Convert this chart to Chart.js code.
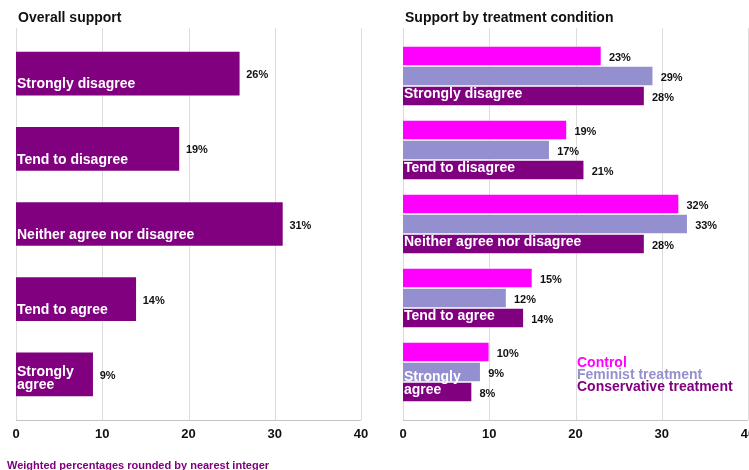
<!DOCTYPE html>
<html>
<head>
<meta charset="utf-8">
<title>Support</title>
<script src="https://cdn.jsdelivr.net/npm/chart.js@4.4.1/dist/chart.umd.min.js"></script>
<style>
  html, body { margin: 0; padding: 0; background: #fff; }
  body {
    width: 749px; height: 470px; overflow: hidden; position: relative;
    font-family: "Liberation Sans", Arial, Helvetica, sans-serif;
  }
  .panel { position: absolute; top: 0; width: 385px; height: 470px; }
  #leftPanel { left: 0; }
  #rightPanel { left: 387px; }
  .title {
    position: absolute; top: 10px; font-size: 14px; line-height: 14px;
    font-weight: bold; color: #111; white-space: nowrap;
  }
  #legend {
    position: absolute; left: 577px; top: 357px; font-size: 14px;
    line-height: 11.75px; font-weight: bold; white-space: nowrap;
  }
  #note {
    position: absolute; left: 7px; top: 460px; font-size: 11px; line-height: 11px;
    font-weight: bold; color: #800080; white-space: nowrap;
  }
</style>
</head>
<body>
<div class="panel" id="leftPanel"><canvas id="overallChart" width="385" height="470"></canvas></div>
<div class="panel" id="rightPanel"><canvas id="treatmentChart" width="385" height="470"></canvas></div>
<div class="title" style="left:18px">Overall support</div>
<div class="title" style="left:405px">Support by treatment condition</div>
<div id="legend"></div>
<div id="note">Weighted percentages rounded by nearest integer</div>

<script>
(() => {
  "use strict";

  // ---------- data ----------
  const categories = [
    ["Strongly disagree"],
    ["Tend to disagree"],
    ["Neither agree nor disagree"],
    ["Tend to agree"],
    ["Strongly", "agree"],
  ];
  const overallValues = [26, 19, 31, 14, 9];

  const seriesNames = ["Control", "Feminist treatment", "Conservative treatment"];
  const controlValues = [23, 19, 32, 15, 10];
  const feministValues = [29, 17, 33, 12, 9];
  const conservativeValues = [28, 21, 28, 14, 8];

  const xTicks = [0, 10, 20, 30, 40];

  // ---------- styles ----------
  const PURPLE = "#800080";
  const MAGENTA = "#ff00ff";
  const LAVENDER = "#9490d0";
  const EDGE = "rgba(255,255,255,0.35)";
  const FONT = "'Liberation Sans', Arial, Helvetica, sans-serif";

  Chart.defaults.font.family = FONT;

  // vertical grid + baseline, drawn a little past the plot area
  const gridUnderlay = {
    id: "gridUnderlay",
    beforeDatasetsDraw(chart, args, opts) {
      const { ctx, chartArea, scales } = chart;
      const x = scales.x;
      ctx.save();
      ctx.lineWidth = 1;
      ctx.strokeStyle = "#dcdcdc";
      x.ticks.forEach((t) => {
        const px = Math.round(x.getPixelForValue(t.value)) + 0.5;
        ctx.beginPath();
        ctx.moveTo(px, opts.top);
        ctx.lineTo(px, opts.bottom);
        ctx.stroke();
      });
      ctx.strokeStyle = "#c4c4c4";
      ctx.beginPath();
      ctx.moveTo(chartArea.left, opts.bottom + 0.5);
      ctx.lineTo(chartArea.right, opts.bottom + 0.5);
      ctx.stroke();
      ctx.restore();
    },
  };

  // "NN%" after the end of each bar
  const valueLabels = {
    id: "valueLabels",
    afterDatasetsDraw(chart, args, opts) {
      const { ctx } = chart;
      ctx.save();
      ctx.font = `bold 11px ${FONT}`;
      ctx.fillStyle = "#111";
      ctx.textBaseline = "middle";
      ctx.textAlign = "left";
      chart.data.datasets.forEach((ds, di) => {
        chart.getDatasetMeta(di).data.forEach((bar, i) => {
          ctx.fillText(`${ds.data[i]}%`, bar.x + opts.gap, bar.y + 1.5);
        });
      });
      ctx.restore();
    },
  };

  // single-line names get an empty first line so the text sits low in the bar
  const catLabel = (v, i) => ["", ...categories[i]].slice(-2);

  // x tick labels are pushed down with a tall line box rather than padding,
  // since tick padding also widens the left edge of the plot
  function options({ top, bottom, tickLine, labelOffset, gap }) {
    return {
      indexAxis: "y",
      responsive: false,
      animation: false,
      events: [],
      layout: { padding: { left: 14, right: 24, top, bottom } },
      plugins: {
        legend: { display: false },
        tooltip: { enabled: false },
        gridUnderlay: { top: 28, bottom: 420 },
        valueLabels: { gap },
      },
      scales: {
        x: {
          min: xTicks[0],
          max: xTicks[xTicks.length - 1],
          grid: { display: false, drawTicks: false },
          border: { display: false },
          ticks: {
            stepSize: xTicks[1] - xTicks[0],
            padding: 2,
            color: "#111",
            font: { size: 13, weight: "bold", lineHeight: tickLine },
          },
        },
        y: {
          grid: { display: false, drawTicks: false },
          border: { display: false },
          ticks: {
            mirror: true,
            z: 1,
            padding: 1,
            labelOffset,
            autoSkip: false,
            color: "#fff",
            font: { size: 14, weight: "bold", lineHeight: "13px" },
            callback: catLabel,
          },
        },
      },
    };
  }

  const labels = categories.map((c) => c.join(" "));

  new Chart(document.getElementById("overallChart"), {
    type: "bar",
    data: {
      labels,
      datasets: [
        {
          label: "Overall",
          data: overallValues,
          backgroundColor: PURPLE,
          borderColor: EDGE,
          borderWidth: 1,
          barThickness: 45,
        },
      ],
    },
    options: options({ top: 36, bottom: 14, tickLine: "40px", labelOffset: 4.5, gap: 6 }),
    plugins: [gridUnderlay, valueLabels],
  });

  const seriesColors = [MAGENTA, LAVENDER, PURPLE];
  const seriesValues = [controlValues, feministValues, conservativeValues];

  new Chart(document.getElementById("treatmentChart"), {
    type: "bar",
    data: {
      labels,
      datasets: seriesNames.map((name, k) => ({
        label: name,
        data: seriesValues[k],
        backgroundColor: seriesColors[k],
        borderColor: EDGE,
        borderWidth: 1,
        barThickness: 20,
      })),
    },
    options: options({ top: 39, bottom: 11, tickLine: "46px", labelOffset: 12, gap: 7.5 }),
    plugins: [gridUnderlay, valueLabels],
  });

  // legend text in series colours
  const legend = document.getElementById("legend");
  seriesNames.forEach((name, k) => {
    const row = document.createElement("div");
    row.textContent = name;
    row.style.color = seriesColors[k];
    legend.appendChild(row);
  });
})();
</script>
</body>
</html>
